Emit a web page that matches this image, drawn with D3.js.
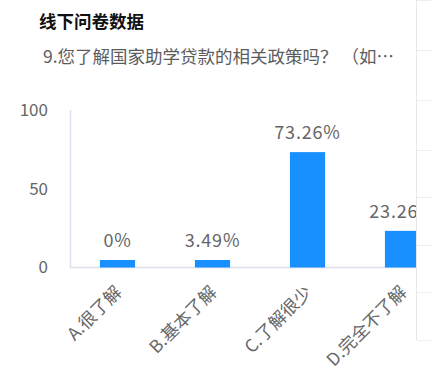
<!DOCTYPE html>
<html>
<head>
<meta charset="utf-8">
<script src="https://cdn.jsdelivr.net/npm/d3@7"></script>
<style>
  body { margin: 0; background: #fff; }
  svg { display: block; font-family: "Noto Sans CJK SC", "Noto Sans", sans-serif; }
</style>
</head>
<body>
<div id="chart"></div>
<script>
// survey question 9, offline questionnaire
var categories = ["A.很了解", "B.基本了解", "C.了解很少", "D.完全不了解"];
var percents = [0, 3.49, 73.26, 23.26];
var valueLabels = ["0%", "3.49%", "73.26%", "23.26%"];
var yTicks = [0, 50, 100];
var panelRows = [0, 50, 100, 150, 197, 245, 292, 340];

function basics() {
	var margin = {top: 110, left: 70},
		width = 431, height = 381;
	return {margin: margin, width: width, height: height};
}

function drawChart() {
	var b = basics(),
		margin = b.margin;

	var svg = d3.select("#chart").append("svg")
		.attr("width", b.width)
		.attr("height", b.height);

	svg.append("text")
		.text("线下问卷数据")
		.attr("x", 39)
		.attr("y", 28)
		.attr("font-size", 17.5)
		.attr("font-weight", "bold")
		.attr("fill", "#111");

	svg.append("text")
		.text("9.您了解国家助学贷款的相关政策吗？ （如…")
		.attr("x", 43)
		.attr("y", 63)
		.attr("font-size", 17.5)
		.attr("fill", "#5c5c5c");

	// chart is cut by the side panel at x=416
	svg.append("clipPath").attr("id", "cut")
		.append("rect").attr("x", 0).attr("y", 0).attr("width", 416).attr("height", 381);

	var plot = svg.append("g").attr("clip-path", "url(#cut)");

	var x = d3.scaleBand()
		.domain(categories)
		.range([margin.left, margin.left + 95 * 4])
		.paddingInner(0.63)
		.paddingOuter(0.315);

	var y = d3.scaleLinear()
		.domain([0, 100])
		.range([267.5, margin.top]);

	// y axis labels
	plot.selectAll(".ytick")
		.data(yTicks)
		.enter().append("text")
		.attr("class", "ytick")
		.text(function(d) { return d; })
		.attr("x", 48)
		.attr("y", function(d) { return y(d); })
		.attr("dy", "0.35em")
		.attr("text-anchor", "end")
		.attr("font-size", 17)
		.attr("fill", "#666");

	// axis lines
	plot.append("line")
		.attr("x1", margin.left + 0.5).attr("x2", margin.left + 0.5)
		.attr("y1", y(100)).attr("y2", y(0))
		.attr("stroke", "#dde0ee").attr("stroke-width", 1.5);
	plot.append("line")
		.attr("x1", margin.left).attr("x2", 431)
		.attr("y1", y(0)).attr("y2", y(0))
		.attr("stroke", "#dde0ee").attr("stroke-width", 1.5);

	var minH = 7.5;
	plot.selectAll(".bar")
		.data(percents)
		.enter().append("rect")
		.attr("class", "bar")
		.attr("x", function(d, i) { return x(categories[i]); })
		.attr("width", x.bandwidth())
		.attr("y", function(d) { return Math.min(y(d), y(0) - minH); })
		.attr("height", function(d) { return Math.max(y(0) - y(d), minH); })
		.attr("fill", "#1890ff");

	plot.selectAll(".val")
		.data(percents)
		.enter().append("text")
		.attr("class", "val")
		.text(function(d, i) { return valueLabels[i]; })
		.attr("x", function(d, i) { return x(categories[i]) + x.bandwidth() / 2; })
		.attr("y", function(d) { return Math.min(y(d), y(0) - minH) - 13; })
		.attr("text-anchor", "middle")
		.attr("font-size", 18)
		.attr("letter-spacing", 0.8)
		.attr("fill", "#666");

	plot.selectAll(".xlab")
		.data(categories)
		.enter().append("text")
		.attr("class", "xlab")
		.text(function(d) { return d; })
		.attr("transform", function(d) {
			return "translate(" + (x(d) + x.bandwidth() / 2) + ",288) rotate(-45)";
		})
		.attr("text-anchor", "end")
		.attr("dominant-baseline", "central")
		.attr("font-size", 17.5)
		.attr("fill", "#666");

	/* side panel on the right */
	svg.append("line")
		.attr("x1", 416.5).attr("x2", 416.5)
		.attr("y1", 0).attr("y2", 340)
		.attr("stroke", "#e6e6e6");
	svg.selectAll(".prow")
		.data(panelRows)
		.enter().append("line")
		.attr("class", "prow")
		.attr("x1", 417).attr("x2", 431)
		.attr("y1", function(d) { return d + 0.5; })
		.attr("y2", function(d) { return d + 0.5; })
		.attr("stroke", "#ececec");
}
drawChart();
</script>
</body>
</html>
